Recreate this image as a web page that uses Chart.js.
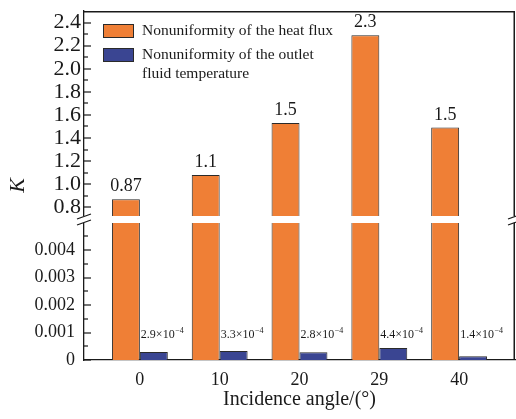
<!DOCTYPE html>
<html lang="en">
<head>
<meta charset="UTF-8">
<title>Nonuniformity vs incidence angle</title>
<script src="https://cdn.jsdelivr.net/npm/chart.js"></script>
<style>
  html, body { margin: 0; padding: 0; background: #fff; }
  .chart-box { position: relative; width: 516px; height: 419px; }
</style>
</head>
<body>
<div class="chart-box"><canvas id="kChart"></canvas></div>
<script>
// data
const angles = ['0', '10', '20', '29', '40'];
const heatFlux = [0.87, 1.08, 1.53, 2.29, 1.49];
const heatFluxText = ['0.87', '1.1', '1.5', '2.3', '1.5'];
const outletTemp = [2.9e-4, 3.3e-4, 2.8e-4, 4.4e-4, 1.4e-4];
const outletText = ['2.9', '3.3', '2.8', '4.4', '1.4'];
const upperTicks = [0.8, 1.0, 1.2, 1.4, 1.6, 1.8, 2.0, 2.2, 2.4];
const upperTickText = ['0.8', '1.0', '1.2', '1.4', '1.6', '1.8', '2.0', '2.2', '2.4'];
const lowerTicks = [0, 0.001, 0.002, 0.003, 0.004];
const lowerTickText = ['0', '0.001', '0.002', '0.003', '0.004'];
const upperRange = [0.69, 2.5];
const lowerRange = [0, 0.0051];

const ORANGE = '#ef7f36';
const BLUE = '#3a4592';
const EDGE = '#2a2a2a';
const INK = '#1a1a1a';
const SERIF = "'Liberation Serif', 'Times New Roman', serif";

// no extra room for half tick labels, the frame is fixed
const noPad = s => { s.paddingTop = 0; s.paddingBottom = 0; s.paddingLeft = 0; s.paddingRight = 0; };

// frame, inward ticks, broken axis, labels and legend
const decorations = {
    id: 'decorations',
    afterDraw(chart) {
        const g = chart.ctx;
        const a = chart.chartArea;
        const up = chart.scales.yUpper;
        const low = chart.scales.yLower;
        const b = up.bottom;

        g.save();
        g.fillStyle = INK;

        // top and right frame
        g.fillRect(a.left, a.top, a.right - a.left, 1.5);
        g.fillRect(a.right - 1.5, a.top, 1.5, a.bottom - a.top);

        // inward ticks
        const tick = (scale, v, len) => {
            const y = Math.round(scale.getPixelForValue(v));
            g.fillRect(a.left, y - 0.6, len, 1.2);
        };
        upperTicks.forEach((v, i) => {
            tick(up, v, 7);
            if (i < upperTicks.length - 1) tick(up, (v + upperTicks[i + 1]) / 2, 4);
        });
        const lowStep = lowerTicks[1] - lowerTicks[0];
        lowerTicks.forEach(v => {
            tick(low, v, 7);
            if (v + lowStep / 2 < lowerRange[1]) tick(low, v + lowStep / 2, 4);
        });

        // white gap of the break
        g.fillStyle = '#fff';
        g.fillRect(a.left - 2, b - 4, a.right - a.left + 4, 7);

        // break marks
        g.strokeStyle = INK;
        g.lineWidth = 1.3;
        g.beginPath();
        [a.left, a.right].forEach(x => {
            g.moveTo(x - 7, b - 1);
            g.lineTo(x + 7, b - 6);
            g.moveTo(x - 7, b + 5);
            g.lineTo(x + 7, b);
        });
        g.stroke();

        // value labels
        g.fillStyle = INK;
        g.textAlign = 'center';
        g.textBaseline = 'alphabetic';
        g.font = '18px ' + SERIF;
        chart.getDatasetMeta(0).data.forEach((bar, i) => {
            g.fillText(heatFluxText[i], bar.x, bar.y - 8);
        });
        g.textAlign = 'left';
        const labelY = low.getPixelForValue(0.001) + 5;
        chart.getDatasetMeta(2).data.forEach((bar, i) => {
            const x = bar.x - bar.width / 2 + 1;
            g.font = '12px ' + SERIF;
            const main = outletText[i] + '\u00d710';
            g.fillText(main, x, labelY);
            const w = g.measureText(main).width;
            g.font = '8px ' + SERIF;
            g.fillText('\u22124', x + w + 0.5, labelY - 5);
        });

        // legend
        const items = [
            { color: ORANGE, lines: ['Nonuniformity of the heat flux'], top: 24 },
            { color: BLUE, lines: ['Nonuniformity of the outlet', 'fluid temperature'], top: 48 }
        ];
        g.font = '15.5px ' + SERIF;
        g.textBaseline = 'middle';
        items.forEach(it => {
            g.fillStyle = it.color;
            g.fillRect(103, it.top, 31, 14);
            g.lineWidth = 1;
            g.strokeStyle = EDGE;
            g.strokeRect(103.5, it.top + 0.5, 30, 13);
            g.fillStyle = INK;
            it.lines.forEach((t, k) => g.fillText(t, 142, it.top + 7 + k * 19));
        });

        // y title
        g.translate(18, (a.top + a.bottom) / 2);
        g.rotate(-Math.PI / 2);
        g.textAlign = 'center';
        g.font = 'italic 22px ' + SERIF;
        g.fillText('K', 0, 0);
        g.restore();
    }
};

new Chart(document.getElementById('kChart'), {
    type: 'bar',
    data: {
        datasets: [{
            label: 'Nonuniformity of the heat flux',
            data: heatFlux.map((v, i) => ({ x: i, y: v })),
            yAxisID: 'yUpper',
            stack: 'heat',
            backgroundColor: ORANGE,
            borderColor: EDGE,
            borderWidth: 1
        }, {
            label: 'Nonuniformity of the heat flux (lower)',
            data: heatFlux.map((v, i) => ({ x: i, y: Math.min(v, lowerRange[1]) })),
            yAxisID: 'yLower',
            stack: 'heat',
            backgroundColor: ORANGE,
            borderColor: EDGE,
            borderWidth: 1
        }, {
            label: 'Nonuniformity of the outlet fluid temperature',
            data: outletTemp.map((v, i) => ({ x: i, y: v })),
            yAxisID: 'yLower',
            stack: 'outlet',
            backgroundColor: BLUE,
            borderColor: EDGE,
            borderWidth: 1
        }]
    },
    options: {
        responsive: true,
        maintainAspectRatio: false,
        animation: false,
        layout: { padding: { top: 11, right: 1, left: 0, bottom: 0 } },
        datasets: { bar: { categoryPercentage: 0.7, barPercentage: 1 } },
        plugins: { legend: { display: false }, tooltip: { enabled: false } },
        scales: {
            x: {
                type: 'linear',
                offset: false,
                min: -0.7,
                max: 4.7,
                afterBuildTicks: s => { s.ticks = angles.map((a, i) => ({ value: i })); },
                afterFit: s => { noPad(s); s.height = 59; },
                ticks: {
                    autoSkip: false,
                    maxRotation: 0,
                    callback: v => angles[v],
                    font: { family: SERIF, size: 18 },
                    color: INK,
                    padding: 9
                },
                grid: { display: false, drawTicks: false, offset: false },
                border: { color: INK, width: 1.3 },
                title: {
                    display: true,
                    text: 'Incidence angle/(°)',
                    font: { family: SERIF, size: 20 },
                    color: INK,
                    padding: { top: 0, bottom: 7 }
                }
            },
            yLower: {
                type: 'linear',
                position: 'left',
                stack: 'k',
                stackWeight: 140,
                stacked: false,
                min: lowerRange[0],
                max: lowerRange[1],
                afterBuildTicks: s => { s.ticks = lowerTicks.map(v => ({ value: v })); },
                afterFit: s => { noPad(s); s.width = 84; },
                ticks: {
                    autoSkip: false,
                    callback: (v, i) => lowerTickText[i],
                    font: { family: SERIF, size: 18 },
                    color: INK,
                    padding: 9
                },
                grid: { display: false, drawTicks: false },
                border: { color: INK, width: 1.3 }
            },
            yUpper: {
                type: 'linear',
                position: 'left',
                stack: 'k',
                stackWeight: 209,
                stacked: false,
                min: upperRange[0],
                max: upperRange[1],
                afterBuildTicks: s => { s.ticks = upperTicks.map(v => ({ value: v })); },
                afterFit: s => { noPad(s); s.width = 84; },
                ticks: {
                    autoSkip: false,
                    callback: (v, i) => upperTickText[i],
                    font: { family: SERIF, size: 22 },
                    color: INK,
                    padding: 3
                },
                grid: { display: false, drawTicks: false },
                border: { color: INK, width: 1.3 }
            }
        }
    },
    plugins: [decorations]
});
</script>
</body>
</html>
